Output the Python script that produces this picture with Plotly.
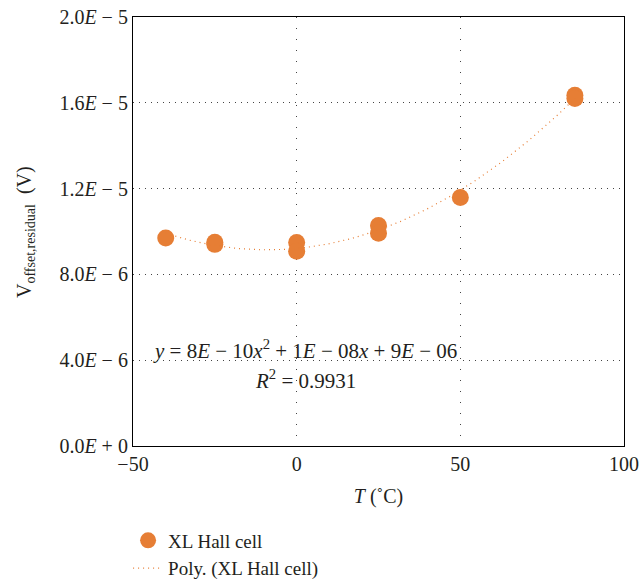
import numpy as np
import plotly.graph_objects as go

# Data
temps = [-40, -25, -25, 0, 0, 25, 25, 50, 85, 85]
v_offset = [9.70e-6, 9.50e-6, 9.40e-6, 9.49e-6, 9.08e-6, 10.28e-6, 9.92e-6, 11.58e-6, 16.35e-6, 16.20e-6]

y_tickvals = [0, 4e-6, 8e-6, 1.2e-5, 1.6e-5, 2.0e-5]
y_ticktext = ["0.0<i>E</i> + 0", "4.0<i>E</i> − 6", "8.0<i>E</i> − 6",
              "1.2<i>E</i> − 5", "1.6<i>E</i> − 5", "2.0<i>E</i> − 5"]
x_tickvals = [-50, 0, 50, 100]
x_ticktext = ["−50", "0", "50", "100"]

eq_text = "<i>y</i> = 8<i>E</i> − 10<i>x</i><sup>2</sup> + 1<i>E</i> − 08<i>x</i> + 9<i>E</i> − 06"
r2_text = "<i>R</i><sup>2</sup> = 0.9931"
y_title = "V<sub><span style='font-size:14px'>offset,residual</span></sub>  (V)"
x_title = "<i>T</i> (˚C)"

ORANGE = "#E67E35"
FONT = "Liberation Serif"
TXT = "#231F20"

# polynomial (order 2) trendline fitted to the data
coef = np.polyfit(temps, v_offset, 2)
x_fit = np.linspace(min(temps), max(temps), 200)
y_fit = np.polyval(coef, x_fit)

fig = go.Figure()
fig.add_trace(go.Scatter(
    x=temps, y=v_offset, mode="markers", name="XL Hall cell",
    marker=dict(color=ORANGE, size=17, line=dict(width=0)),
))
fig.add_trace(go.Scatter(
    x=x_fit, y=y_fit, mode="lines", name="Poly. (XL Hall cell)",
    line=dict(color=ORANGE, width=1.2, dash="1px,4px"),
))

PW, PH = 491, 429
fig.add_annotation(xref="paper", yref="paper", x=(305 - 133) / PW, y=(446 - 349) / PH,
                   text=eq_text, showarrow=False, font=dict(family=FONT, size=21, color=TXT),
                   xanchor="center", yanchor="middle")
fig.add_annotation(xref="paper", yref="paper", x=(305 - 133) / PW, y=(446 - 379) / PH,
                   text=r2_text, showarrow=False, font=dict(family=FONT, size=21, color=TXT),
                   xanchor="center", yanchor="middle")
# y-axis title (placed as rotated text to match reference position)
fig.add_annotation(xref="paper", yref="paper", x=(25 - 133) / PW, y=(446 - 232) / PH,
                   text=y_title, textangle=-90, showarrow=False,
                   font=dict(family=FONT, size=20, color=TXT),
                   xanchor="center", yanchor="middle")

fig.update_layout(
    width=639, height=582,
    margin=dict(l=133, r=15, t=17, b=136, autoexpand=False),
    paper_bgcolor="white", plot_bgcolor="white",
    font=dict(family=FONT, size=20, color=TXT),
    showlegend=True,
    legend=dict(x=-0.01, y=-0.176, xanchor="left", yanchor="top",
                font=dict(family=FONT, size=19, color=TXT),
                bgcolor="rgba(0,0,0,0)", tracegroupgap=0, itemwidth=30),
    xaxis=dict(
        range=[-50, 100], tickvals=x_tickvals, ticktext=x_ticktext,
        showline=True, linecolor="black", linewidth=1.2, mirror=True,
        showgrid=True, gridcolor="#444", gridwidth=1, griddash="1px,10px",
        zeroline=False, ticks="", automargin=False,
        tickfont=dict(family=FONT, size=20, color=TXT),
        title=dict(text=x_title, font=dict(family=FONT, size=20, color=TXT), standoff=14),
    ),
    yaxis=dict(
        range=[0, 2.0e-5], tickvals=y_tickvals, ticktext=y_ticktext,
        showline=True, linecolor="black", linewidth=1.2, mirror=True,
        showgrid=True, gridcolor="#444", gridwidth=1, griddash="1px,5px",
        zeroline=False, ticks="", automargin=False,
        tickfont=dict(family=FONT, size=20, color=TXT),
    ),
)

fig.write_html("out.html")
